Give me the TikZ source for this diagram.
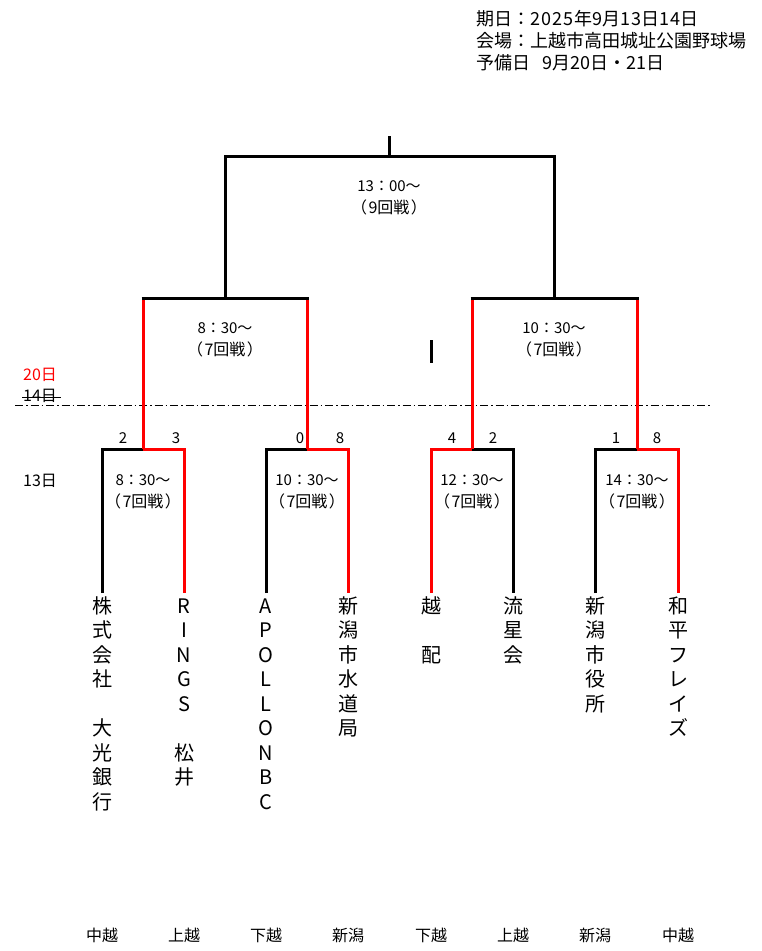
\documentclass[tikz,border=0pt]{standalone}
\usepackage{fontspec}
\setmainfont{Noto Sans CJK JP}
\newcommand\vcol[1]{\vtop{\baselineskip=24.5pt\lineskiplimit=-20pt\lineskip=0pt\halign{\hfil##\hfil\cr#1\crcr}}}
\newcommand\rnd[1]{{\fontsize{16}{21.5}\selectfont （\hspace{1.5pt}#1\hspace{1.5pt}）}}
\begin{document}
\begin{tikzpicture}[x=1pt,y=-1pt,
  blk/.style={line width=3pt,draw=black,line join=miter},
  redl/.style={line width=3pt,draw=red,line join=miter},
  hdr/.style={anchor=base west,inner sep=0pt,font=\fontsize{18}{20}\selectfont},
  tm/.style={anchor=base,inner sep=0pt,font=\fontsize{20}{24.5}\selectfont},
  mt/.style={inner sep=0pt,font=\fontsize{15}{21.5}\selectfont,align=center},
  sc/.style={inner sep=0pt,font=\fontsize{15}{18}\selectfont},
  day/.style={anchor=west,inner sep=0pt,font=\fontsize{16}{18}\selectfont},
  reg/.style={inner sep=0pt,font=\fontsize{16}{18}\selectfont}]
\path[use as bounding box,fill=white] (0,0) rectangle (761,951);

% header
\node[hdr] (h1) at (476,25) {期日：2\kern1pt 0\kern1pt 2\kern1pt 5\kern1pt 年9月1\kern1pt 3日1\kern1pt 4日};
\node[hdr] (h2) at (476,47) {会場：上越市高田城址公園野球場};
\node[hdr] (h3) at (476,69) {予備日\hspace{12pt}9月20日・21日};

% day labels
\node[day,text=red] (d20) at (23,375) {20日};
\node[day] (d14) at (23,396) {14日};
\draw[line width=1pt] (d14.west) ++(-1,1) -- ++(39,0);
\node[day] (d13) at (23,481) {13日};

% dash-dot separator
\coordinate (sepL) at (15,405);
\coordinate (sepR) at (712,405);
\draw[line width=1pt,dash pattern=on 8pt off 3pt on 1.5pt off 3pt] (sepL) -- (sepR);

% teams
\node[tm] (t1) at (102,613) {\vcol{株\cr 式\cr 会\cr 社\cr \cr 大\cr 光\cr 銀\cr 行}};
\node[tm] (t2) at (184,613) {\vcol{R\cr I\cr N\cr G\cr S\cr \cr 松\cr 井}};
\node[tm] (t3) at (266,613) {\vcol{A\cr P\cr O\cr L\cr L\cr O\cr N\cr B\cr C}};
\node[tm] (t4) at (348,613) {\vcol{新\cr 潟\cr 市\cr 水\cr 道\cr 局}};
\node[tm] (t5) at (431,613) {\vcol{越\cr \cr 配}};
\node[tm] (t6) at (513,613) {\vcol{流\cr 星\cr 会}};
\node[tm] (t7) at (595,613) {\vcol{新\cr 潟\cr 市\cr 役\cr 所}};
\node[tm] (t8) at (678,613) {\vcol{和\cr 平\cr フ\cr レ\cr イ\cr ズ}};

% regions
\node[reg] (r1) at (102,935) {中越};
\node[reg] (r2) at (184,935) {上越};
\node[reg] (r3) at (266,935) {下越};
\node[reg] (r4) at (348,935) {新潟};
\node[reg] (r5) at (431,935) {下越};
\node[reg] (r6) at (513,935) {上越};
\node[reg] (r7) at (595,935) {新潟};
\node[reg] (r8) at (678,935) {中越};

% coordinates
\foreach \n/\x in {1/102,2/184,3/266,4/348,5/431,6/513,7/595,8/678}{
  \coordinate (b\n) at (\x,593);
  \coordinate (c\n) at (\x,449);
}
\coordinate (m1) at (143,449);
\coordinate (m2) at (307,449);
\coordinate (m3) at (472,449);
\coordinate (m4) at (637,449);
\coordinate (s1a) at (143,298);
\coordinate (s1b) at (307,298);
\coordinate (s2a) at (472,298);
\coordinate (s2b) at (637,298);
\coordinate (s1) at (225,298);
\coordinate (s2) at (554,298);
\coordinate (f1) at (225,156);
\coordinate (f2) at (554,156);
\coordinate (fc) at (389,156);
\coordinate (ftop) at (389,136);
\coordinate (strayA) at (431,340);
\coordinate (strayB) at (431,363);

% round 1
\draw[blk] (b1) -- (c1) -- (m1);
\draw[redl] (m1) -- (c2) -- (b2);
\draw[blk] (b3) -- (c3) -- (m2);
\draw[redl] (m2) -- (c4) -- (b4);
\draw[redl] (b5) -- (c5) -- (m3);
\draw[blk] (m3) -- (c6) -- (b6);
\draw[blk] (b7) -- (c7) -- (m4);
\draw[redl] (m4) -- (c8) -- (b8);

% semis
\draw[redl] (m1) -- (s1a);
\draw[redl] (m2) -- (s1b);
\draw[redl] (m3) -- (s2a);
\draw[redl] (m4) -- (s2b);
\draw[blk] ([xshift=-1.5pt]s1a) -- ([xshift=1.5pt]s1b);
\draw[blk] ([xshift=-1.5pt]s2a) -- ([xshift=1.5pt]s2b);

% final
\draw[blk] (s1) -- (f1) -- (f2) -- (s2);
\draw[blk] (fc) -- (ftop);
\draw[blk] (strayA) -- (strayB);

% scores
\node[sc] (p1) at (123,438) {2};
\node[sc] (p2) at (176,438) {3};
\node[sc] (p3) at (300,438) {0};
\node[sc] (p4) at (340,438) {8};
\node[sc] (p5) at (452,438) {4};
\node[sc] (p6) at (493,438) {2};
\node[sc] (p7) at (616,438) {1};
\node[sc] (p8) at (657,438) {8};

% match times
\node[mt] (g1) at (143,492) {8：30～\\\rnd{7回戦}};
\node[mt] (g2) at (307,492) {10：30～\\\rnd{7回戦}};
\node[mt] (g3) at (472,492) {12：30～\\\rnd{7回戦}};
\node[mt] (g4) at (637,492) {14：30～\\\rnd{7回戦}};
\node[mt] (g5) at (225,340) {8：30～\\\rnd{7回戦}};
\node[mt] (g6) at (554,340) {10：30～\\\rnd{7回戦}};
\node[mt] (g7) at (389,198) {13：00～\\\rnd{9回戦}};
\end{tikzpicture}
\end{document}
